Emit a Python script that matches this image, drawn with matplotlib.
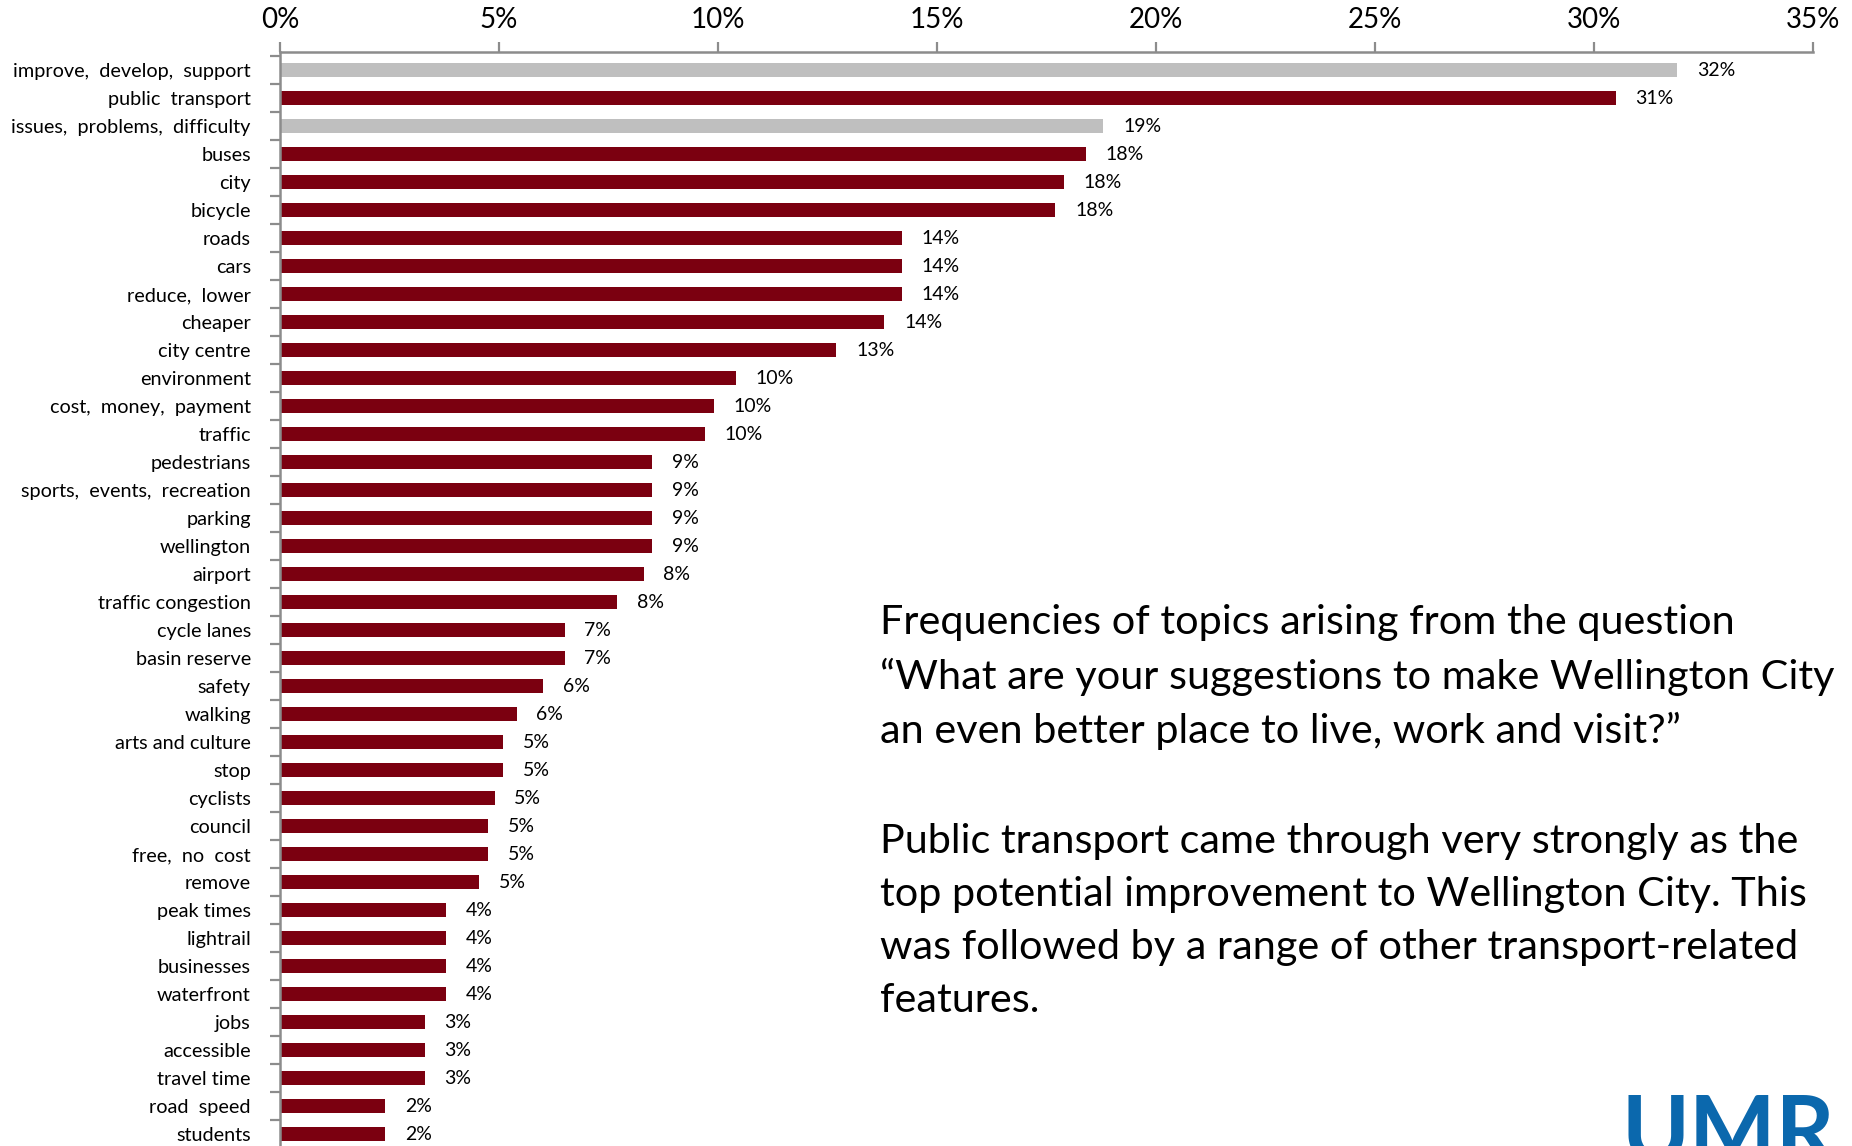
import matplotlib
matplotlib.use("Agg")
import matplotlib.pyplot as plt
from matplotlib.ticker import FixedLocator

categories = [
    "improve,  develop,  support", "public  transport", "issues,  problems,  difficulty",
    "buses", "city", "bicycle", "roads", "cars", "reduce,  lower", "cheaper",
    "city centre", "environment", "cost,  money,  payment", "traffic", "pedestrians",
    "sports,  events,  recreation", "parking", "wellington", "airport", "traffic congestion",
    "cycle lanes", "basin reserve", "safety", "walking", "arts and culture", "stop",
    "cyclists", "council", "free,  no  cost", "remove", "peak times", "lightrail",
    "businesses", "waterfront", "jobs", "accessible", "travel time", "road  speed", "students",
]
values = [
    31.9, 30.5, 18.8, 18.4, 17.9, 17.7, 14.2, 14.2, 14.2, 13.8,
    12.7, 10.4, 9.9, 9.7, 8.5, 8.5, 8.5, 8.5, 8.3, 7.7,
    6.5, 6.5, 6.0, 5.4, 5.1, 5.1, 4.9, 4.75, 4.75, 4.55,
    3.8, 3.8, 3.8, 3.8, 3.3, 3.3, 3.3, 2.4, 2.4,
]
value_labels = [
    "32%", "31%", "19%", "18%", "18%", "18%", "14%", "14%", "14%", "14%",
    "13%", "10%", "10%", "10%", "9%", "9%", "9%", "9%", "8%", "8%",
    "7%", "7%", "6%", "6%", "5%", "5%", "5%", "5%", "5%", "5%",
    "4%", "4%", "4%", "4%", "3%", "3%", "3%", "2%", "2%",
]
gray_items = ["improve,  develop,  support", "issues,  problems,  difficulty"]
x_ticks = [0, 5, 10, 15, 20, 25, 30, 35]
x_tick_labels = ["0%", "5%", "10%", "15%", "20%", "25%", "30%", "35%"]

RED = "#7b0010"
GRAY = "#bfbfbf"
AXC = "#8c8c8c"

plt.rcParams['font.family'] = ['Lato', 'DejaVu Sans']

W, H = 1852, 1146
fig = plt.figure(figsize=(W / 100, H / 100), dpi=100)
left_px, right_px, top_px = 280, 1813, 52
ax = fig.add_axes([left_px / W, 0, (right_px - left_px) / W, 1 - top_px / H])

pos = list(range(len(categories)))
colors = [GRAY if c in gray_items else RED for c in categories]
ax.barh(pos, values, height=0.52, color=colors, zorder=2)
for p, v, lab in zip(pos, values, value_labels):
    ax.text(v + 0.45, p, lab, va="center", ha="left", fontsize=14, color="black")

top_units = 18 / 28
ax.set_ylim((H - top_px) / 28 - top_units, -top_units)
ax.set_xlim(0, 35)

ax.xaxis.tick_top()
ax.set_xticks(x_ticks)
ax.set_xticklabels(x_tick_labels, fontsize=20)
ax.tick_params(axis="x", direction="out", length=7, width=1.6, color=AXC, pad=7)

ax.set_yticks(pos)
ax.set_yticklabels(categories, fontsize=14.3)
ax.tick_params(axis="y", which="major", length=0, pad=21)
ax.yaxis.set_minor_locator(FixedLocator([p - 0.5 for p in pos] + [len(pos) - 0.5]))
ax.tick_params(axis="y", which="minor", direction="out", length=7, width=1.6, color=AXC)

for s in ["right", "bottom"]:
    ax.spines[s].set_visible(False)
for s in ["top", "left"]:
    ax.spines[s].set_color(AXC)
    ax.spines[s].set_linewidth(1.8)

txt1 = ("Frequencies of topics arising from the question\n"
        "\u201cWhat are your suggestions to make Wellington City\n"
        "an even better place to live, work and visit?\u201d")
txt2 = ("Public transport came through very strongly as the\n"
        "top potential improvement to Wellington City. This\n"
        "was followed by a range of other transport-related\n"
        "features.")
fig.text(880 / W, 1 - 604 / H, txt1, ha="left", va="top", fontsize=29.8, linespacing=1.53)
fig.text(880 / W, 1 - 823 / H, txt2, ha="left", va="top", fontsize=29.8, linespacing=1.53)

fig.text(1622 / W, 1 - 1094 / H, "UMR", ha="left", va="top", fontsize=66,
         fontweight="bold", color="#0b68ad")

fig.savefig("out.png", dpi=100)
